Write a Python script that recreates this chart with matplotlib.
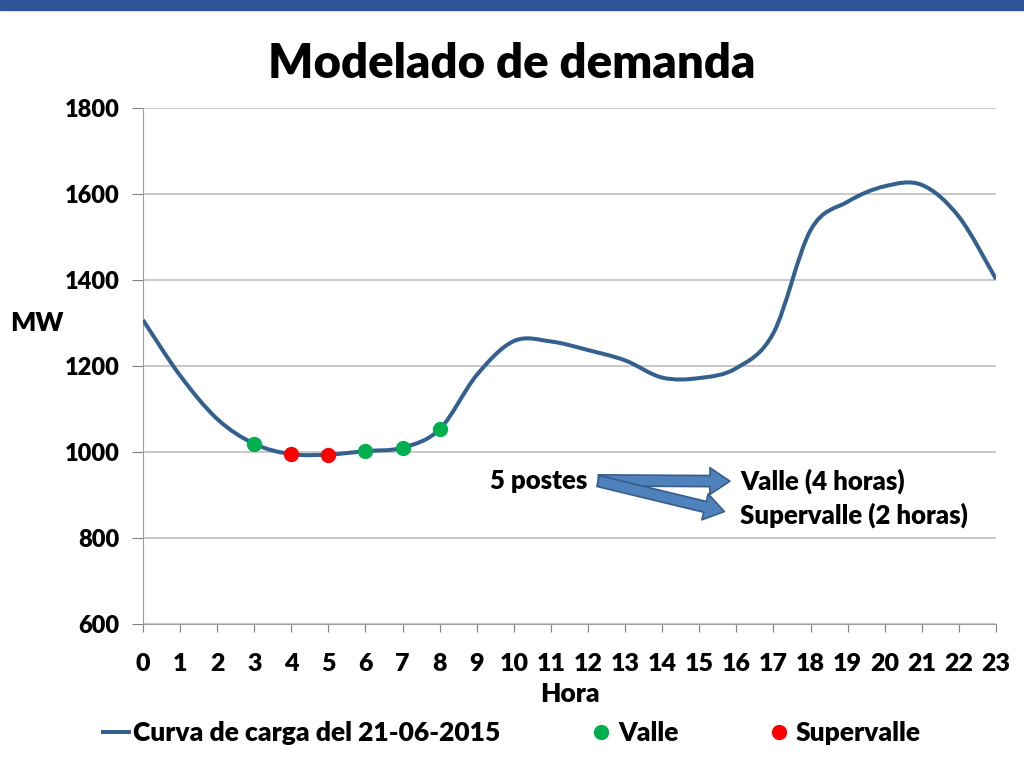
import matplotlib
matplotlib.use("Agg")
import matplotlib.pyplot as plt
from matplotlib.path import Path
from matplotlib.patches import PathPatch, FancyArrowPatch, Rectangle
from matplotlib.lines import Line2D

FONT = "Lato"
WEIGHT = "heavy"
LINE_BLUE = "#34608F"
BAR_BLUE = "#2F5597"
GREEN = "#00B050"
RED = "#FF0000"
GRID = "#BFBFBF"

HOURS = list(range(24))
DEMAND = [1307, 1178, 1077, 1019, 995, 994, 1002, 1010, 1053, 1179, 1258, 1257,
          1237, 1213, 1173, 1172, 1195, 1277, 1516, 1582, 1618, 1621, 1547, 1402]
VALLE_HOURS = [3, 6, 7, 8]
SUPERVALLE_HOURS = [4, 5]
Y_TICKS = [600, 800, 1000, 1200, 1400, 1600, 1800]

plt.rcParams["font.family"] = [FONT, "DejaVu Sans"]
plt.rcParams["font.weight"] = WEIGHT


def smooth_path(xs, ys):
    # excel-like smoothed line: catmull-rom segments as cubic beziers
    pts = list(zip(xs, ys))
    verts = [pts[0]]
    codes = [Path.MOVETO]
    n = len(pts)
    for i in range(n - 1):
        p0 = pts[i - 1] if i > 0 else pts[i]
        p1 = pts[i]
        p2 = pts[i + 1]
        p3 = pts[i + 2] if i + 2 < n else pts[i + 1]
        c1 = (p1[0] + (p2[0] - p0[0]) / 6, p1[1] + (p2[1] - p0[1]) / 6)
        c2 = (p2[0] - (p3[0] - p1[0]) / 6, p2[1] - (p3[1] - p1[1]) / 6)
        verts += [c1, c2, p2]
        codes += [Path.CURVE4] * 3
    return Path(verts, codes)


fig = plt.figure(figsize=(10.24, 7.68), dpi=100)
fig.patches.append(Rectangle((0, 0.987), 1, 0.013, transform=fig.transFigure,
                             color=BAR_BLUE, zorder=0))
ax = fig.add_axes([0.1396, 0.1875, 0.8331, 0.6719])

ax.add_patch(PathPatch(smooth_path(HOURS, DEMAND), facecolor="none",
                       edgecolor=LINE_BLUE, lw=2.9, zorder=3))
ax.plot(VALLE_HOURS, [DEMAND[h] for h in VALLE_HOURS], "o", color=GREEN,
        ms=10, zorder=4)
ax.plot(SUPERVALLE_HOURS, [DEMAND[h] for h in SUPERVALLE_HOURS], "o",
        color=RED, ms=10, zorder=4)

ax.set_xlim(0, 23)
ax.set_ylim(600, 1800)
ax.set_xticks(HOURS)
ax.set_yticks(Y_TICKS)
ax.tick_params(axis="x", labelsize=18, length=6, color="#808080", pad=15)
ax.tick_params(axis="y", labelsize=17, length=8, color="#808080", pad=9)
for lab in ax.get_xticklabels() + ax.get_yticklabels():
    lab.set_fontweight(WEIGHT)
ax.grid(axis="y", color=GRID, lw=1.2)
ax.set_axisbelow(True)
for s in ["top", "right"]:
    ax.spines[s].set_visible(False)
for s in ["left", "bottom"]:
    ax.spines[s].set_color("#A0A0A0")
ax.spines["left"].set_linewidth(0.8)

ax.set_xlabel("Hora", fontsize=19, fontweight=WEIGHT, labelpad=5)
fig.text(0.036, 0.579, "MW", fontsize=19, fontweight=WEIGHT, ha="center", va="center")
fig.text(0.5, 0.917, "Modelado de demanda", fontsize=34, fontweight=WEIGHT,
         ha="center", va="center")

# annotation with block arrows
ax.text(9.35, 932, "5 postes", fontsize=18.5, fontweight=WEIGHT, va="center")
ax.text(16.1, 932, "Valle (4 horas)", fontsize=18.5, fontweight=WEIGHT, va="center")
ax.text(16.1, 852, "Supervalle (2 horas)", fontsize=18.5, fontweight=WEIGHT, va="center")
for end in [(15.9, 932), (15.75, 860)]:
    ax.add_patch(FancyArrowPatch((12.2, 934), end,
                                 arrowstyle="simple,head_length=0.9,head_width=1.2,tail_width=0.5",
                                 mutation_scale=16, facecolor="#4F81BD",
                                 edgecolor="#385D8A", lw=1.2, zorder=5))

handles = [
    Line2D([], [], color=LINE_BLUE, lw=2.9),
    Line2D([], [], ls="none", marker="o", color=GREEN, ms=10),
    Line2D([], [], ls="none", marker="o", color=RED, ms=10),
]
labels = ["Curva de carga del 21-06-2015", "Valle", "Supervalle"]
fig.legend(handles, labels, loc="center", bbox_to_anchor=(0.5, 0.045), ncol=3,
           frameon=False, handlelength=1.0, handletextpad=0.15,
           columnspacing=3.3, prop={"weight": WEIGHT, "size": 19})

fig.savefig("out.png", dpi=100)
